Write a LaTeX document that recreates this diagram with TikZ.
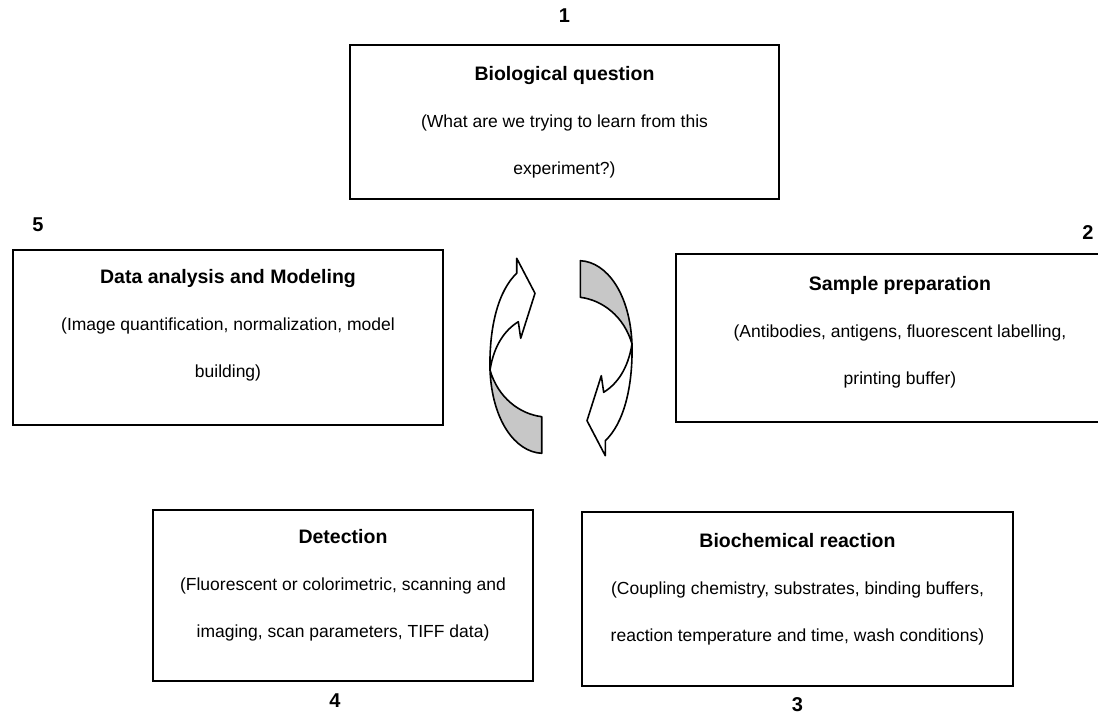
\documentclass[tikz,border=0pt]{standalone}
\usepackage{fontspec}
\setmainfont{Liberation Sans}
\usetikzlibrary{positioning}
\tikzset{every picture/.style={
  x=1pt,y=-1pt                  % One unit is one pixel of the scan.
  }
}
\newcommand{\steptitle}[1]{{\fontsize{19.5}{46}\selectfont\bfseries #1}}

\begin{document}
\begin{tikzpicture}[
        stage/.style={
          rectangle,
          draw,
          line width=1.6pt,
          inner sep=0pt,
        },
        stagetext/.style={
          align=center,
          inner sep=0pt,
          font=\fontsize{17.5}{47}\selectfont,
        },
        num/.style={
          inner sep=0pt,
          font=\fontsize{20}{20}\selectfont\bfseries,
        },
        turn/.style={draw,line width=1.6pt,fill=white,line join=round},
        twist/.style={turn,fill=black!22},
      ]
      \useasboundingbox (0,0) rectangle (1098,720);
      \node[stage,minimum width=429pt,minimum height=154pt] (question) at (564.5,122) {};
      \node[stagetext] (questiontext) [below=22pt of question.north] {%
        \steptitle{Biological question}\\(What are we trying to learn from this\\experiment?)};
      \node[num] (n1) [above=21pt of question] {1};

      \node[stage,minimum width=430pt,minimum height=175pt] (analysis) at (228,337.5) {};
      \node[stagetext] (analysistext) [below=20pt of analysis.north] {%
        \steptitle{Data analysis and Modeling}\\(Image quantification, normalization, model\\building)};
      \node[num] (n5) [above right=17pt and 20pt of analysis.north west] {5};

      \node[stage,minimum width=448pt,minimum height=168pt] (prep) at (900,338) {};
      \node[stagetext] (preptext) [below=23pt of prep.north] {%
        \steptitle{Sample preparation}\\(Antibodies, antigens, fluorescent labelling,\\printing buffer)};
      \node[num] (n2) [above=14pt of prep.north,xshift=188pt] {2};

      \node[stage,minimum width=380pt,minimum height=171pt] (detection) at (343,595.5) {};
      \node[stagetext] (detectiontext) [below=20pt of detection.north] {%
        \steptitle{Detection}\\(Fluorescent or colorimetric, scanning and\\imaging, scan parameters, TIFF data)};
      \node[num] (n4) [below=12pt of detection,xshift=-8pt] {4};

      \node[stage,minimum width=431pt,minimum height=174pt] (reaction) at (797.5,599) {};
      \node[stagetext] (reactiontext) [below=22pt of reaction.north] {%
        \steptitle{Biochemical reaction}\\(Coupling chemistry, substrates, binding buffers,\\reaction temperature and time, wash conditions)};
      \node[num] (n3) [below=11pt of reaction] {3};

      % the two turning arrows of the cycle
      \foreach \spin in {0,180} {
        \begin{scope}[rotate around={\spin:(561,357)}]
          \draw[twist] (490,370) .. controls (498,398) and (520,414) .. (541.7,416.7)
            -- (541.7,453.3) .. controls (515,452) and (492,420) .. cycle;
          \draw[turn] (490,370) .. controls (489,325) and (499,290) .. (516.7,273.3)
            -- (516.7,258.3) -- (535,293.3) -- (520.7,338.3) -- (518.3,321.7)
            .. controls (505,330) and (494,345) .. cycle;
        \end{scope}
      }
      \end{tikzpicture}
\end{document}
